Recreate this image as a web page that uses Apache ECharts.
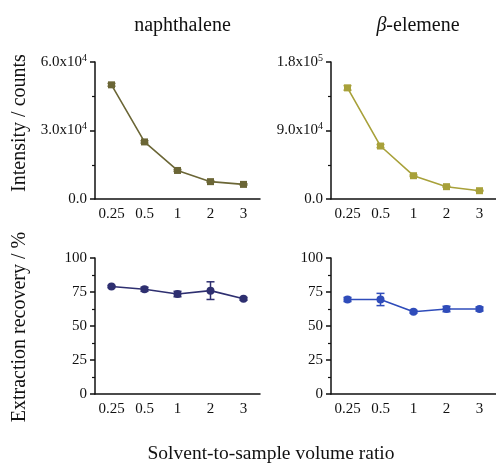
<!DOCTYPE html>
<html><head><meta charset="utf-8">
<script src="https://cdn.jsdelivr.net/npm/echarts@6/dist/echarts.min.js"></script>
<style>html,body{margin:0;padding:0;background:#fff}#c{width:496px;height:464px}</style>
</head><body><div id="c"></div>
<script>
const categories = ['0.25','0.5','1','2','3'];
const naphIntensity = [50000, 25000, 12500, 7600, 6400];
const naphIntensityErr = [600, 500, 400, 300, 300];
const elemIntensity = [146000, 69600, 30600, 16200, 10900];
const elemIntensityErr = [3000, 2000, 1000, 800, 600];
const naphRecovery = [79, 77, 73.5, 76, 70];
const naphRecoveryErr = [0.8, 1.5, 2, 6.5, 1];
const elemRecovery = [69.5, 69.5, 60.5, 62.5, 62.5];
const elemRecoveryErr = [1.5, 4.5, 1, 2, 1.5];
const topTicksLeft = {0:'0.0', 30000:'3.0x10^4', 60000:'6.0x10^4'};
const topTicksRight = {0:'0.0', 90000:'9.0x10^4', 180000:'1.8x10^5'};

const FONT = '"Liberation Serif", "DejaVu Serif", serif';
const colors = ['#6b6636', '#a8a13a', '#2e2f70', '#2f4cba'];

function sciFmt(map){
  return function(v){
    const s = map[v];
    if (s === undefined) return '';
    if (s.indexOf('^') < 0) return s;
    const [b, e] = s.split('^');
    return b + '{s|' + e + '}';
  };
}
const grids = [
  {left:95, width:165, top:62, height:137},
  {left:331, width:165, top:62, height:137},
  {left:95, width:165, top:258, height:136},
  {left:331, width:165, top:258, height:136}
];
const axisLine = {lineStyle:{color:'#111', width:1.5}};
const axisTick = {length:5, lineStyle:{color:'#111', width:1.5}};
const labelStyle = {fontFamily:FONT, fontSize:15, color:'#111'};

const xAxes = grids.map((g,i)=>({
  type:'category', gridIndex:i, data:categories,
  axisLine, axisTick:Object.assign({alignWithLabel:true, interval:0}, axisTick),
  axisLabel:Object.assign({margin:8, interval:0, hideOverlap:false}, labelStyle)
}));
const yAxes = [
  {max:60000, interval:30000, fmt:topTicksLeft},
  {max:180000, interval:90000, fmt:topTicksRight},
  {max:100, interval:25},
  {max:100, interval:25}
].map((a,i)=>({
  type:'value', gridIndex:i, min:0, max:a.max, interval:a.interval,
  axisLine:Object.assign({show:true}, axisLine), axisTick:Object.assign({show:true}, axisTick),
  minorTick:{show:true, splitNumber:2, length:3, lineStyle:{color:'#111', width:1.2}},
  splitLine:{show:false},
  axisLabel:Object.assign({margin:8,
    formatter: a.fmt ? sciFmt(a.fmt) : undefined,
    rich: {s:{fontFamily:FONT, fontSize:10, color:'#111', verticalAlign:'top', padding:[0,0,8,0]}}
  }, labelStyle)
}));

function errSeries(idx, vals, errs, color){
  return {
    type:'custom', xAxisIndex:idx, yAxisIndex:idx, z:1,
    data: vals.map((v,i)=>[i, v - errs[i], v + errs[i]]),
    renderItem: function(params, api){
      const lo = api.coord([api.value(0), api.value(1)]);
      const hi = api.coord([api.value(0), api.value(2)]);
      const w = 4;
      const st = {stroke: color, lineWidth: 1.5};
      return {type:'group', children:[
        {type:'line', shape:{x1:lo[0], y1:lo[1], x2:hi[0], y2:hi[1]}, style:st},
        {type:'line', shape:{x1:hi[0]-w, y1:hi[1], x2:hi[0]+w, y2:hi[1]}, style:st},
        {type:'line', shape:{x1:lo[0]-w, y1:lo[1], x2:lo[0]+w, y2:lo[1]}, style:st}
      ]};
    }
  };
}
function lineSeries(idx, vals, color, symbol){
  return {
    type:'line', xAxisIndex:idx, yAxisIndex:idx, data:vals, z:3,
    symbol:symbol, symbolSize: symbol==='rect' ? 7 : 8,
    lineStyle:{color:color, width:1.6}, itemStyle:{color:color},
    animation:false
  };
}

const chart = echarts.init(document.getElementById('c'));
chart.setOption({
  animation:false,
  backgroundColor:'#fff',
  title:[
    {text:'naphthalene', left:177.5, top:11, textAlign:'center',
     textStyle:{fontFamily:FONT, fontSize:20, fontWeight:'normal', color:'#111'}},
    {text:'{i|β}-elemene', left:413, top:11, textAlign:'center',
     textStyle:{fontFamily:FONT, fontSize:20, fontWeight:'normal', color:'#111',
       rich:{i:{fontFamily:FONT, fontSize:20, fontStyle:'italic', color:'#111'}}}}
  ],
  grid:grids,
  xAxis:xAxes,
  yAxis:yAxes,
  graphic:[
    {type:'text', x:20, y:123, rotation:Math.PI/2,
     style:{text:'Intensity / counts', font:'20px ' + FONT, fill:'#111', textAlign:'center', textVerticalAlign:'middle'}},
    {type:'text', x:20, y:327, rotation:Math.PI/2,
     style:{text:'Extraction recovery / %', font:'20px ' + FONT, fill:'#111', textAlign:'center', textVerticalAlign:'middle'}},
    {type:'text', x:271, y:454,
     style:{text:'Solvent-to-sample volume ratio', font:'19.5px ' + FONT, fill:'#111', textAlign:'center', textVerticalAlign:'middle'}}
  ],
  series:[
    errSeries(0, naphIntensity, naphIntensityErr, colors[0]),
    lineSeries(0, naphIntensity, colors[0], 'rect'),
    errSeries(1, elemIntensity, elemIntensityErr, colors[1]),
    lineSeries(1, elemIntensity, colors[1], 'rect'),
    errSeries(2, naphRecovery, naphRecoveryErr, colors[2]),
    lineSeries(2, naphRecovery, colors[2], 'circle'),
    errSeries(3, elemRecovery, elemRecoveryErr, colors[3]),
    lineSeries(3, elemRecovery, colors[3], 'circle')
  ]
});
</script></body></html>
